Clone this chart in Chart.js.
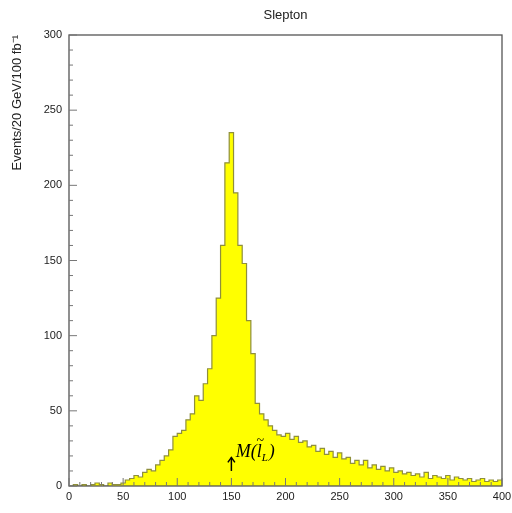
<!DOCTYPE html>
<html>
<head>
<meta charset="utf-8">
<script src="https://cdn.jsdelivr.net/npm/chart.js@4/dist/chart.umd.min.js"></script>
<style>
  body { margin: 0; background: #fff; }
  #wrap { width: 512px; height: 513px; }
</style>
</head>
<body>
<div id="wrap"><canvas id="myChart" width="512" height="513"></canvas></div>
<script>
// histogram, 4 GeV bins from 0 to 400
var binWidth = 4;
var counts = [
  0, 1, 0, 1, 0, 1, 2, 1, 0, 2,
  1, 1, 2, 4, 5, 7, 6, 9, 11, 10,
  14, 17, 20, 24, 33, 35, 37, 44, 48, 60,
  57, 68, 78, 100, 125, 160, 215, 235, 195, 160,
  148, 110, 88, 55, 48, 44, 40, 37, 34, 33,
  35, 31, 33, 29, 30, 26, 27, 23, 25, 21,
  23, 19, 22, 18, 19, 15, 17, 14, 17, 12,
  14, 11, 13, 10, 12, 9, 10, 8, 9, 7,
  8, 6, 9, 5, 7, 6, 5, 7, 4, 6,
  5, 4, 5, 3, 4, 5, 3, 4, 3, 4
];
var xTicks = [0, 50, 100, 150, 200, 250, 300, 350, 400];
var yTicks = [0, 50, 100, 150, 200, 250, 300];
var titleText = "Slepton";
var yTitle = "Events/20 GeV/100 fb\u207B\u00B9";
var markX = 150;

var histPoints = counts.map(function (c, i) {
  return { x: i * binWidth, y: c };
});
histPoints.push({ x: counts.length * binWidth, y: counts[counts.length - 1] });

// frame, inward ticks, title and the mass marker
var decorPlugin = {
  id: "decor",
  afterDraw: function (chart) {
    var ctx = chart.ctx;
    var a = chart.chartArea;
    var xs = chart.scales.x;
    var ys = chart.scales.y;
    ctx.save();
    ctx.strokeStyle = "#555";
    ctx.lineWidth = 1.3;
    ctx.strokeRect(a.left, a.top, a.right - a.left, a.bottom - a.top);

    ctx.lineWidth = 1;
    ctx.strokeStyle = "#777";
    for (var v = 0; v <= 400; v += 10) {
      var px = xs.getPixelForValue(v);
      var len = v % 50 === 0 ? 8 : 4;
      ctx.beginPath();
      ctx.moveTo(px, a.bottom);
      ctx.lineTo(px, a.bottom - len);
      ctx.stroke();
    }
    for (var w = 0; w <= 300; w += 10) {
      var py = ys.getPixelForValue(w);
      var l2 = w % 50 === 0 ? 8 : 4;
      ctx.beginPath();
      ctx.moveTo(a.left, py);
      ctx.lineTo(a.left + l2, py);
      ctx.stroke();
    }

    // title
    ctx.fillStyle = "#222";
    ctx.font = "13px 'Liberation Sans', Arial, sans-serif";
    ctx.textAlign = "center";
    ctx.textBaseline = "middle";
    ctx.fillText(titleText, (a.left + a.right) / 2, 15);

    // arrow at the slepton mass
    var ax = xs.getPixelForValue(markX);
    var y0 = ys.getPixelForValue(10);
    var y1 = ys.getPixelForValue(19);
    ctx.strokeStyle = "#000";
    ctx.lineWidth = 1.5;
    ctx.beginPath();
    ctx.moveTo(ax, y0);
    ctx.lineTo(ax, y1);
    ctx.stroke();
    ctx.beginPath();
    ctx.moveTo(ax - 3.5, y1 + 5);
    ctx.lineTo(ax, y1);
    ctx.lineTo(ax + 3.5, y1 + 5);
    ctx.stroke();

    // M(l~_L) label
    var tx = xs.getPixelForValue(154);
    var ty = ys.getPixelForValue(19);
    ctx.fillStyle = "#000";
    ctx.textAlign = "left";
    ctx.textBaseline = "alphabetic";
    ctx.font = "italic 18px 'Liberation Serif', serif";
    ctx.fillText("M(", tx, ty);
    var wM = ctx.measureText("M(").width;
    ctx.fillText("l", tx + wM, ty);
    var wl = ctx.measureText("l").width;
    ctx.font = "14px 'Liberation Serif', serif";
    ctx.textAlign = "center";
    ctx.fillText("~", tx + wM + wl / 2 + 1, ty - 12);
    ctx.textAlign = "left";
    ctx.font = "italic 11px 'Liberation Serif', serif";
    ctx.fillText("L", tx + wM + wl, ty + 4);
    var wL = ctx.measureText("L").width;
    ctx.font = "italic 18px 'Liberation Serif', serif";
    ctx.fillText(")", tx + wM + wl + wL + 1, ty);
    ctx.restore();
  }
};

new Chart(document.getElementById("myChart"), {
  type: "line",
  data: {
    datasets: [
      {
        data: histPoints,
        stepped: true,
        fill: "origin",
        backgroundColor: "#ffff00",
        borderColor: "#8f8f3c",
        borderWidth: 1.2,
        pointRadius: 0,
        tension: 0,
      },
    ],
  },
  options: {
    responsive: false,
    animation: false,
    layout: { padding: { top: 35, right: 10, left: 0, bottom: 0 } },
    plugins: {
      legend: { display: false },
      tooltip: { enabled: false },
    },
    scales: {
      x: {
        type: "linear",
        min: 0,
        max: 400,
        grid: { display: false, drawTicks: false },
        border: { display: false },
        afterBuildTicks: function (s) {
          s.ticks = xTicks.map(function (v) { return { value: v }; });
        },
        afterFit: function (s) {
          s.height = 27;
          s.paddingRight = 0;
          s.paddingLeft = 0;
        },
        ticks: {
          padding: 4,
          maxRotation: 0,
          autoSkip: false,
          color: "#222",
          font: { family: "'Liberation Sans', Arial, sans-serif", size: 11 },
        },
      },
      y: {
        min: 0,
        max: 300,
        grid: { display: false, drawTicks: false },
        border: { display: false },
        afterBuildTicks: function (s) {
          s.ticks = yTicks.map(function (v) { return { value: v }; });
        },
        afterFit: function (s) { s.width = 69; },
        title: {
          display: true,
          text: yTitle,
          align: "end",
          color: "#222",
          padding: { top: 10, bottom: 0 },
          font: { family: "'Liberation Sans', Arial, sans-serif", size: 13 },
        },
        ticks: {
          padding: 7,
          color: "#222",
          font: { family: "'Liberation Sans', Arial, sans-serif", size: 11 },
        },
      },
    },
  },
  plugins: [decorPlugin],
});
</script>
</body>
</html>
